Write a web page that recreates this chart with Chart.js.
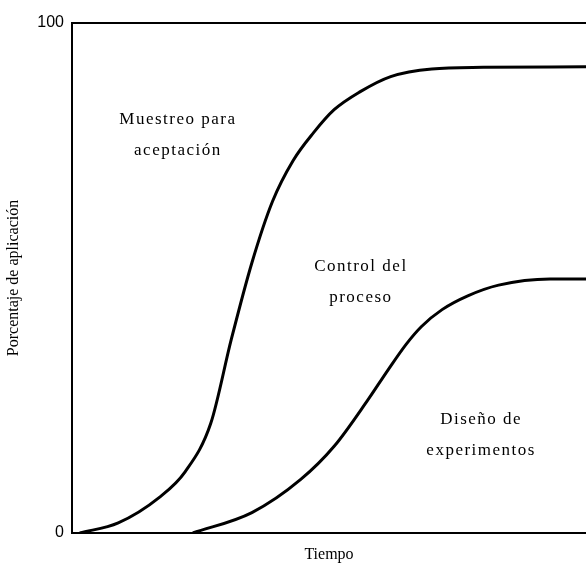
<!DOCTYPE html>
<html>
<head>
<meta charset="utf-8">
<script src="https://cdn.jsdelivr.net/npm/chart.js@4"></script>
<style>
  body { margin: 0; background: #fff; }
  #wrap { width: 586px; height: 564px; }
</style>
</head>
<body>
<div id="wrap"><canvas id="myChart"></canvas></div>
<script>
// tiempo (0-100) y porcentaje de aplicacion
const tiempoMuestreo = [1.5, 9, 17, 22, 27, 31, 35, 39, 43, 47, 51, 56, 62, 70, 80, 100];
const pctMuestreo = [0, 2, 7, 12, 21.5, 38, 53, 65, 73, 78.5, 83, 86.5, 89.5, 91, 91.3, 91.4];

const tiempoControl = [23.5, 35, 44.5, 51, 57.5, 61.5, 65, 68, 72, 77, 83, 93, 100];
const pctControl = [0, 4, 10.5, 17, 26, 32, 37, 40.5, 43.8, 46.5, 48.6, 49.8, 49.8];

const yTicks = [0, 100];

// etiquetas dentro del grafico: [lineas, tiempo, porcentaje]
const etiquetas = [
    [['Muestreo para', 'aceptación'], 20.6, 81],
    [['Control del', 'proceso'], 56.2, 52.2],
    [['Diseño de', 'experimentos'], 79.6, 22.2]
];

function toPoints(xs, ys) {
    return xs.map((x, i) => ({ x: x, y: ys[i] }));
}

const textPlugin = {
    id: 'textos',
    afterDatasetsDraw(chart) {
        const ctx = chart.ctx;
        const sx = chart.scales.x, sy = chart.scales.y;
        ctx.save();
        ctx.fillStyle = '#000';
        ctx.font = '17px "Liberation Serif", serif';
        ctx.letterSpacing = '1.5px';
        ctx.textAlign = 'center';
        ctx.textBaseline = 'middle';
        for (const e of etiquetas) {
            const px = sx.getPixelForValue(e[1]);
            const py = sy.getPixelForValue(e[2]);
            e[0].forEach((line, i) => ctx.fillText(line, px, py + i * 31));
        }
        ctx.restore();
    }
};

const ctx = document.getElementById('myChart').getContext('2d');
const myChart = new Chart(ctx, {
    type: 'line',
    data: {
        datasets: [{
            label: 'Muestreo para aceptación',
            data: toPoints(tiempoMuestreo, pctMuestreo),
            borderColor: '#000',
            borderWidth: 3,
            pointRadius: 0,
            cubicInterpolationMode: 'monotone'
        }, {
            label: 'Control del proceso',
            data: toPoints(tiempoControl, pctControl),
            borderColor: '#000',
            borderWidth: 3,
            pointRadius: 0,
            cubicInterpolationMode: 'monotone'
        }]
    },
    options: {
        responsive: true,
        maintainAspectRatio: false,
        animation: false,
        layout: { padding: { top: 23, left: 0, right: 0, bottom: 0 } },
        plugins: {
            legend: { display: false },
            tooltip: { enabled: false }
        },
        scales: {
            x: {
                type: 'linear',
                min: 0,
                max: 100,
                ticks: { display: false },
                grid: { display: false },
                border: { display: true, color: '#000', width: 2 },
                title: {
                    display: true,
                    text: 'Tiempo',
                    color: '#000',
                    font: { family: '"Liberation Serif", serif', size: 16 },
                    padding: { top: 6, bottom: 0 }
                },
                afterFit(scale) { scale.height = 31; }
            },
            y: {
                min: 0,
                max: 100,
                afterBuildTicks(scale) {
                    scale.ticks = yTicks.map(v => ({ value: v }));
                },
                ticks: {
                    color: '#000',
                    font: { family: '"Liberation Sans", Arial, sans-serif', size: 16 },
                    padding: 8
                },
                grid: {
                    drawTicks: false,
                    color: (c) => c.tick && c.tick.value === 100 ? '#000' : 'rgba(0,0,0,0)',
                    lineWidth: 2
                },
                border: { display: true, color: '#000', width: 2 },
                title: {
                    display: true,
                    text: 'Porcentaje de aplicación',
                    color: '#000',
                    font: { family: '"Liberation Serif", serif', size: 16 },
                    padding: { top: 4, bottom: 0 }
                },
                afterFit(scale) { scale.width = 72; }
            }
        }
    },
    plugins: [textPlugin]
});
</script>
</body>
</html>
